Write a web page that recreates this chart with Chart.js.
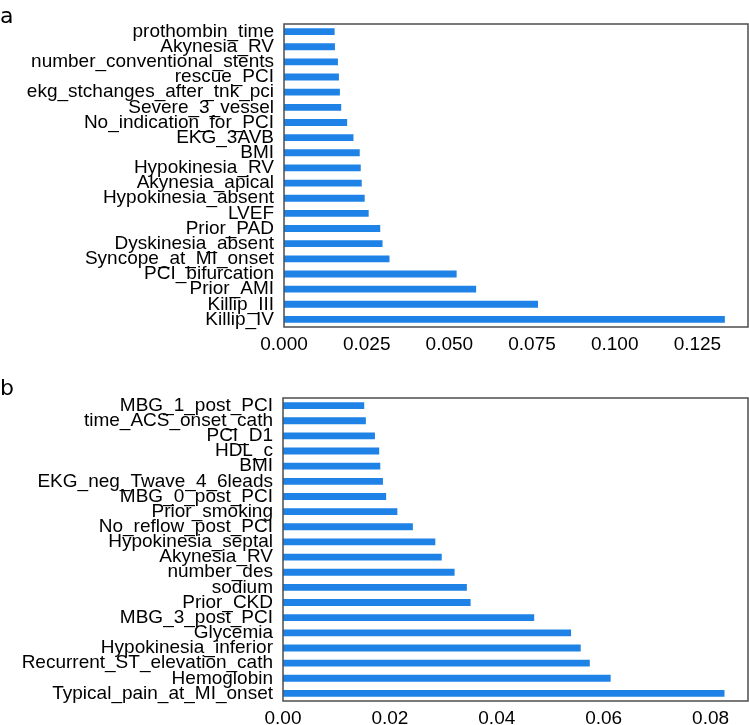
<!DOCTYPE html>
<html>
<head>
<meta charset="utf-8">
<script src="https://cdn.jsdelivr.net/npm/chart.js@4.4.0/dist/chart.umd.min.js"></script>
<style>
	html, body { margin: 0; padding: 0; background: #fff; }
	#wrap { position: relative; width: 749px; height: 725px; overflow: hidden; }
	.panel-canvas { position: absolute; left: 0; }
	.panel-letter { position: absolute; left: 0; font-family: "DejaVu Sans", sans-serif; font-size: 22px; color: #000; line-height: 1; }
</style>
</head>
<body>
<div id="wrap">
	<canvas id="chart-a" class="panel-canvas" width="749" height="362" style="top:0;"></canvas>
	<canvas id="chart-b" class="panel-canvas" width="749" height="363" style="top:362px;"></canvas>
	<div class="panel-letter" style="top:5px;">a</div>
	<div class="panel-letter" style="top:377px;">b</div>
</div>
<script>
	'use strict';

	// panel a: feature importances, top to bottom
	var labelsA = ['prothombin_time', 'Akynesia_RV', 'number_conventional_stents', 'rescue_PCI',
		'ekg_stchanges_after_tnk_pci', 'Severe_3_vessel', 'No_indication_for_PCI', 'EKG_3AVB', 'BMI',
		'Hypokinesia_RV', 'Akynesia_apical', 'Hypokinesia_absent', 'LVEF', 'Prior_PAD',
		'Dyskinesia_absent', 'Syncope_at_MI_onset', 'PCI_bifurcation', 'Prior_AMI', 'Killip_III', 'Killip_IV'];
	var valuesA = [0.0153, 0.0154, 0.0163, 0.0166, 0.0169, 0.0173, 0.0191, 0.0210, 0.0229,
		0.0232, 0.0235, 0.0244, 0.0256, 0.0291, 0.0298, 0.0319, 0.0522, 0.0581, 0.0768, 0.1333];
	var ticksA = [0, 0.025, 0.05, 0.075, 0.1, 0.125];

	// panel b
	var labelsB = ['MBG_1_post_PCI', 'time_ACS_onset_cath', 'PCI_D1', 'HDL_c', 'BMI',
		'EKG_neg_Twave_4_6leads', 'MBG_0_post_PCI', 'Prior_smoking', 'No_reflow_post_PCI',
		'Hypokinesia_septal', 'Akynesia_RV', 'number_des', 'sodium', 'Prior_CKD', 'MBG_3_post_PCI',
		'Glycemia', 'Hypokinesia_inferior', 'Recurrent_ST_elevation_cath', 'Hemoglobin', 'Typical_pain_at_MI_onset'];
	var valuesB = [0.0152, 0.0155, 0.0172, 0.0180, 0.0182, 0.0187, 0.0193, 0.0214, 0.0243,
		0.0285, 0.0297, 0.0321, 0.0344, 0.0351, 0.0470, 0.0539, 0.0557, 0.0574, 0.0613, 0.0826];
	var ticksB = [0, 0.02, 0.04, 0.06, 0.08];

	var barColor = 'rgb(30,130,230)';
	var frameColor = '#4d4d4d';
	var tickFont = { family: '"Liberation Sans", Arial, sans-serif', size: 19 };

	Chart.defaults.color = '#000';

	// draw the full box around the plot area
	var framePlugin = {
		id: 'plotFrame',
		afterDraw: function(chart) {
			var a = chart.chartArea;
			var ctx = chart.ctx;
			ctx.save();
			ctx.strokeStyle = frameColor;
			ctx.lineWidth = 1.5;
			ctx.strokeRect(a.left, a.top, a.right - a.left, a.bottom - a.top);
			ctx.restore();
		}
	};

	function buildPanel(canvasId, labels, values, tickValues, xMax, digits, opts) {
		var ctx = document.getElementById(canvasId);
		return new Chart(ctx, {
			type: 'bar',
			data: {
				labels: labels,
				datasets: [{
					data: values,
					backgroundColor: barColor,
					borderWidth: 0,
					barPercentage: 0.45,
					categoryPercentage: 1.0
				}]
			},
			options: {
				indexAxis: 'y',
				responsive: false,
				animation: false,
				devicePixelRatio: 1,
				layout: { padding: { top: opts.top, right: 1, bottom: 0, left: 0 } },
				plugins: {
					legend: { display: false },
					tooltip: { enabled: false }
				},
				scales: {
					x: {
						min: 0,
						max: xMax,
						grid: { display: false, drawTicks: false },
						border: { display: false },
						afterBuildTicks: function(scale) {
							scale.ticks = tickValues.map(function(v) { return { value: v }; });
						},
						afterFit: function(scale) { scale.height = opts.xHeight; },
						ticks: {
							font: tickFont,
							padding: 6,
							maxRotation: 0,
							autoSkip: false,
							callback: function(v) { return Number(v).toFixed(digits); }
						}
					},
					y: {
						grid: { display: false, drawTicks: false },
						border: { display: false },
						afterFit: function(scale) { scale.width = opts.left; },
						ticks: {
							font: tickFont,
							padding: 10,
							autoSkip: false
						}
					}
				}
			},
			plugins: [framePlugin]
		});
	}

	buildPanel('chart-a', labelsA, valuesA, ticksA, 0.1403, 3, { top: 24, xHeight: 35, left: 284 });
	buildPanel('chart-b', labelsB, valuesB, ticksB, 0.087, 2, { top: 36, xHeight: 24, left: 283 });
</script>
</body>
</html>
